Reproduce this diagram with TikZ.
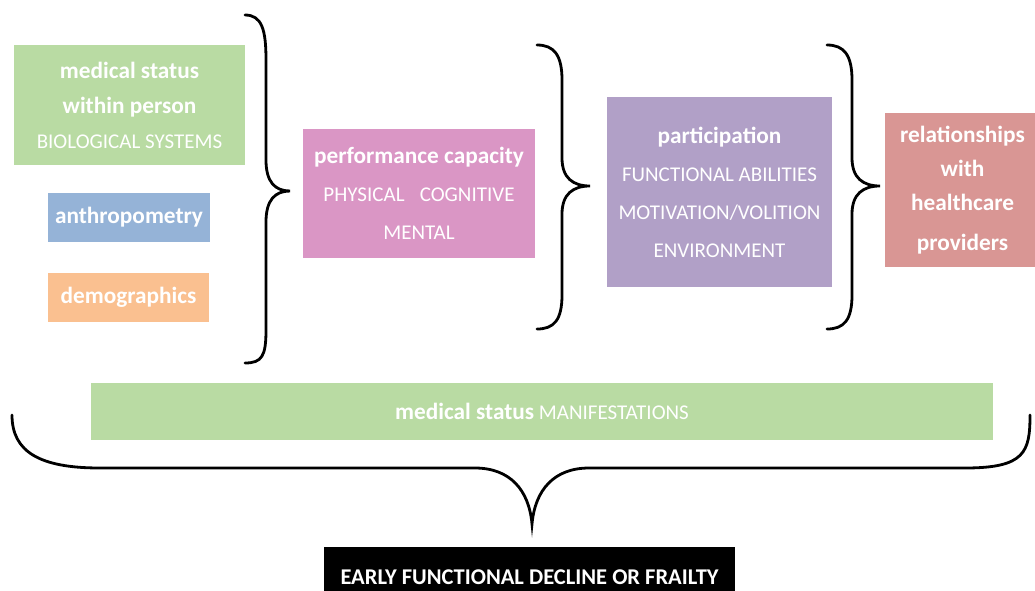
\documentclass[tikz,border=0pt]{standalone}
\usepackage{fontspec}
\setmainfont{Carlito}
\definecolor{statusgreen}{HTML}{B9DBA3}
\definecolor{anthroblue}{HTML}{95B3D7}
\definecolor{demoorange}{HTML}{FAC090}
\definecolor{perfpink}{HTML}{DA96C5}
\definecolor{partpurple}{HTML}{B1A0C7}
\definecolor{relred}{HTML}{D99694}
\newcommand{\hd}[1]{{\fontsize{23.3}{28}\selectfont\bfseries #1}}

\begin{document}
\begin{tikzpicture}[
    x=1pt, y=-1pt,
    every node/.style={
        inner sep=0pt,
        align=center,
        text=white,
        font=\fontsize{21}{35}\selectfont
    },
    box/.style={fill=#1},
    brace/.style={line width=2.8pt, line cap=round}
]
\useasboundingbox (0,0) rectangle (1035,590);

\node[box=statusgreen, minimum width=231pt, minimum height=120pt] (within) at (129.5,105)
    {\hd{medical status}\\\hd{within person}\\BIOLOGICAL SYSTEMS};
\node[box=anthroblue, minimum width=162pt, minimum height=49pt] (anthro) at (129,217.5)
    {\hd{anthropometry}};
\node[box=demoorange, minimum width=161pt, minimum height=49pt] (demo) at (128.5,297.5)
    {\hd{demographics}};

\node[box=perfpink, minimum width=232pt, minimum height=129pt,
      font=\fontsize{21}{38}\selectfont] (perf) at (419,193.5)
    {\hd{performance capacity}\\PHYSICAL\enspace\ COGNITIVE\\MENTAL};

\node[box=partpurple, minimum width=225pt, minimum height=190pt,
      font=\fontsize{21}{38}\selectfont] (part) at (719.5,192)
    {\hd{participation}\\FUNCTIONAL ABILITIES\\MOTIVATION/VOLITION\\ENVIRONMENT};

\node[box=relred, minimum width=155pt, minimum height=154pt,
      font=\fontsize{21}{34}\selectfont] (rel) at (962.5,190)
    {\hd{relationships}\\\hd{with}\\\hd{healthcare}\\[6pt]\hd{providers}};

\node[box=statusgreen, minimum width=902pt, minimum height=57pt] (manif) at (542,411.5)
    {\hd{medical status} MANIFESTATIONS};

\node[box=black, minimum width=411pt, minimum height=60pt,
      font=\fontsize{22.5}{26}\selectfont\bfseries] (frail) at (529.5,577)
    {EARLY FUNCTIONAL DECLINE OR FRAILTY};

% braces
\draw[brace] (245,15) .. controls (262,15) and (266,30) .. (266,60) -- (266,160)
    .. controls (266,182) and (275,191) .. (290,191)
    .. controls (275,191) and (266,200) .. (266,222) -- (266,330)
    .. controls (266,356) and (262,363) .. (245,363);
\draw[brace] (537,45) .. controls (554,45) and (562,55) .. (562,80) -- (562,158)
    .. controls (562,178) and (573,186) .. (590,186)
    .. controls (573,186) and (562,194) .. (562,214) -- (562,295)
    .. controls (562,320) and (554,329) .. (537,329);
\draw[brace] (827,45) .. controls (844,45) and (852,55) .. (852,80) -- (852,158)
    .. controls (852,178) and (863,186) .. (880,186)
    .. controls (863,186) and (852,194) .. (852,214) -- (852,295)
    .. controls (852,320) and (844,329) .. (827,329);
\draw[brace] (12,415) .. controls (12,452) and (40,468) .. (100,468) -- (475,468)
    .. controls (510,468) and (529,490) .. (532,524)
    .. controls (535,490) and (554,468) .. (589,468) -- (965,468)
    .. controls (1025,468) and (1030,452) .. (1030,415);
\end{tikzpicture}
\end{document}
